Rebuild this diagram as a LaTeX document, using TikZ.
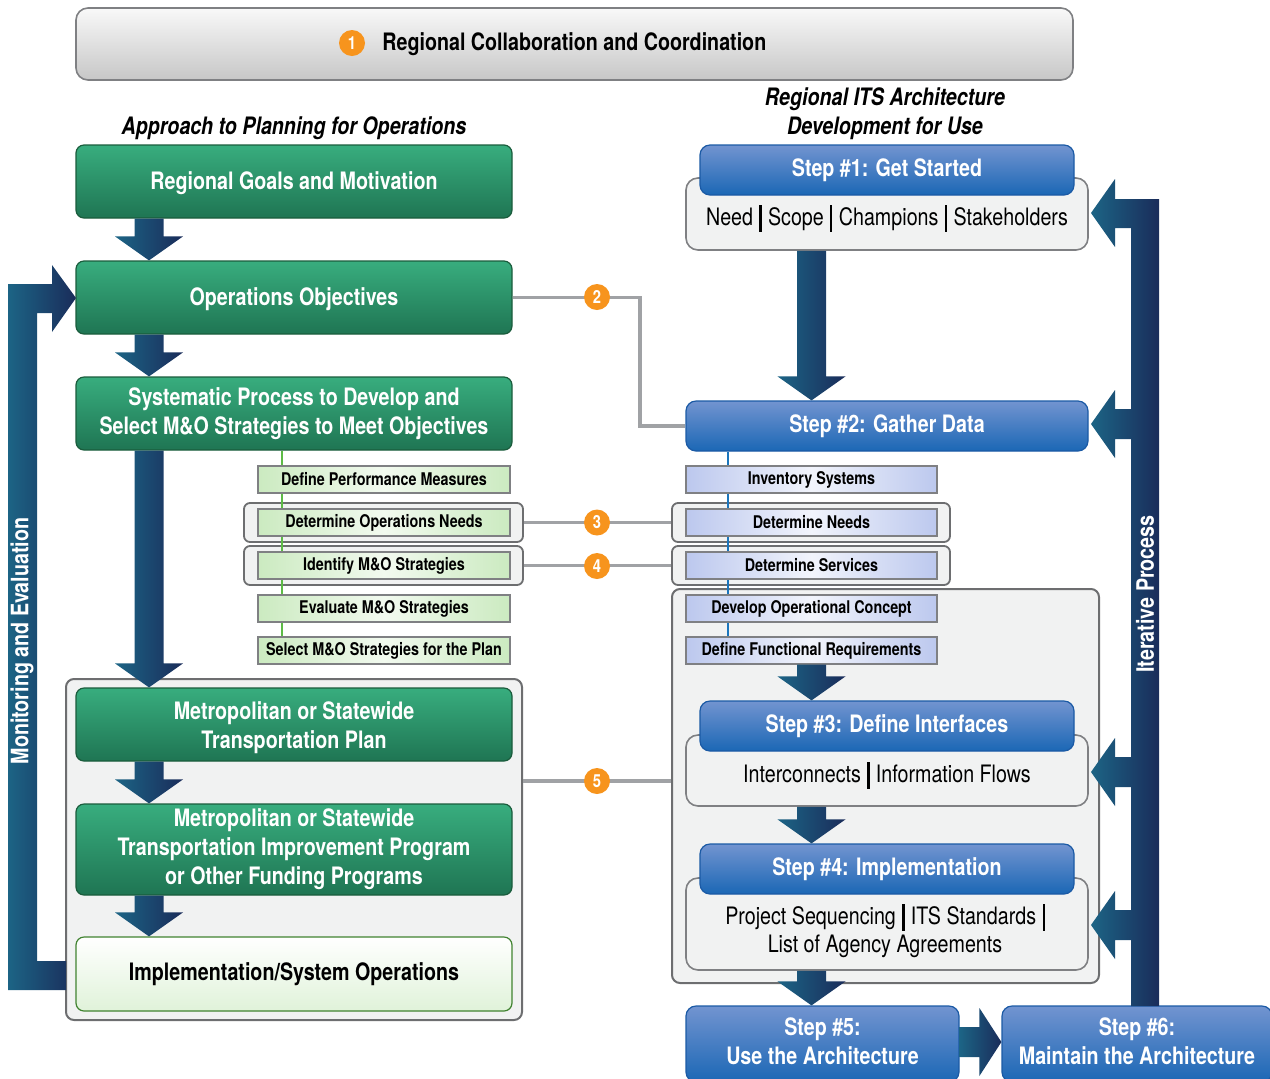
\documentclass[tikz,border=0pt]{standalone}
\usepackage{fontspec}
\setmainfont{TeX Gyre Heros}[FakeStretch=0.82]
\usetikzlibrary{calc}

\definecolor{orng}{HTML}{F7941D}
\definecolor{grtop}{HTML}{38AD7E}
\definecolor{grbot}{HTML}{1F7553}
\definecolor{grline}{HTML}{1A5C3C}
\definecolor{bltop}{HTML}{7294D0}
\definecolor{blbot}{HTML}{1B67B5}
\definecolor{blline}{HTML}{1B5AA5}
\definecolor{arrl}{HTML}{1C6485}
\definecolor{arrr}{HTML}{1A2C5A}
\definecolor{conn}{HTML}{A0A2A5}
\definecolor{frfill}{HTML}{F1F2F2}
\definecolor{frline}{HTML}{6D6E70}
\definecolor{lgreen}{HTML}{CBEAC0}
\definecolor{lblue}{HTML}{BCC8EE}
\definecolor{subline}{HTML}{7F8083}
\definecolor{gline}{HTML}{5DBB46}
\definecolor{bline}{HTML}{1B75BC}

\tikzset{
  bigtxt/.style={font=\fontsize{12}{14.5}\selectfont\bfseries},
  greenbox/.style={rectangle, rounded corners=4pt, draw=grline, line width=0.6pt,
    top color=grtop, bottom color=grbot, text=white, bigtxt, align=center,
    minimum width=218pt, inner sep=0pt},
  lightbox/.style={rectangle, rounded corners=4pt, draw=gline!70!black, line width=0.6pt,
    top color=white, bottom color=lgreen!60, text=black, bigtxt, align=center,
    minimum width=218pt, inner sep=0pt},
  stephead/.style={rectangle, rounded corners=5pt, draw=blline, line width=0.6pt,
    top color=bltop, bottom color=blbot, text=white, bigtxt, align=center, inner sep=0pt},
  stepbody/.style={rectangle, rounded corners=6pt, draw=subline, line width=0.8pt,
    fill=frfill, minimum width=201pt, inner sep=0pt},
  bodytxt/.style={font=\fontsize{12}{14}\selectfont, align=center, inner sep=0pt},
  subgreen/.style={rectangle, draw=subline, line width=0.7pt, left color=lgreen,
    right color=lgreen, middle color=lgreen!25, minimum width=126pt, minimum height=13.5pt,
    inner sep=0pt, font=\fontsize{8.75}{10}\selectfont\bfseries},
  subblue/.style={subgreen, left color=lblue, right color=lblue, middle color=lblue!20,
    minimum width=125.5pt},
  pairframe/.style={rectangle, rounded corners=3pt, draw=frline, line width=0.9pt,
    fill=frfill, minimum height=19.5pt, inner sep=0pt},
  bigframe/.style={rectangle, rounded corners=4pt, draw=frline, line width=1pt,
    fill=frfill, inner sep=0pt},
  num/.style={circle, fill=orng, text=white, font=\fontsize{9}{9}\selectfont\bfseries,
    minimum size=13pt, inner sep=0pt},
  connline/.style={draw=conn, line width=1.6pt},
  arrowfill/.style={left color=arrl, right color=arrr},
  headtxt/.style={font=\fontsize{12}{14.5}\selectfont\bfseries\itshape, align=center},
}

\newcommand{\vbar}{\hspace{3.2pt}\rule[-3pt]{1.1pt}{13.5pt}\hspace{3.2pt}}
\newcommand{\lowfix}{\rule[-3pt]{0pt}{3pt}}
\newcommand{\hifix}[1]{\rule{0pt}{#1}}

% block arrow pointing down, from #1 to #2
\newcommand{\blkdown}[2]{%
  \shade[arrowfill] let \p1=(#1), \p2=(#2) in
    (\x1-7.25pt,\y1) -- (\x1+7.25pt,\y1) -- (\x1+7.25pt,\y2+12pt) -- (\x1+17pt,\y2+12pt)
    -- (\x2,\y2) -- (\x1-17pt,\y2+12pt) -- (\x1-7.25pt,\y2+12pt) -- cycle;}
% block arrow pointing right
\newcommand{\blkright}[2]{%
  \shade[arrowfill] let \p1=(#1), \p2=(#2) in
    (\x1,\y1+7.5pt) -- (\x2-11pt,\y1+7.5pt) -- (\x2-11pt,\y1+17pt) -- (\x2,\y1)
    -- (\x2-11pt,\y1-17pt) -- (\x2-11pt,\y1-7.5pt) -- (\x1,\y1-7.5pt) -- cycle;}

\begin{document}
\begin{tikzpicture}[x=0.5pt,y=-0.5pt]
\useasboundingbox (0,0) rectangle (1270,1078);

%top banner
\node[rectangle, rounded corners=6pt, draw=subline, line width=0.8pt, top color=white!95!gray,
  bottom color=black!22, minimum width=498.5pt, minimum height=36pt] (banner) at (574.5,44) {};
\node[num] (n1) at (352,43) {1};
\node[bigtxt, anchor=west, inner sep=0pt] (bantxt) at (382,44) {Regional Collaboration and Coordination};

%headings
\node[headtxt] (hleft) at (294,128) {Approach to Planning for Operations};
\node[headtxt] (hright) at (885,114) {Regional ITS Architecture\\Development for Use};

%frames
\node[bigframe, minimum width=228pt, minimum height=170.5pt] (fl) at (294,849.5) {};
\node[bigframe, minimum width=213.5pt, minimum height=197pt] (fr) at (885.5,786) {};
\node[pairframe, minimum width=139.5pt] (fl3) at (383.5,522.5) {};
\node[pairframe, minimum width=139.5pt] (fl4) at (383.5,565.5) {};
\node[pairframe, minimum width=139pt] (fr3) at (811,522.5) {};
\node[pairframe, minimum width=139pt] (fr4) at (811,565.5) {};

%left column
\node[greenbox, minimum height=36.5pt] (g1) at (294,181.5) {\hifix{11pt}Regional Goals and Motivation};
\node[greenbox, minimum height=36.5pt] (g2) at (294,297.5) {\hifix{11pt}Operations Objectives};
\node[greenbox, minimum height=36.5pt] (g3) at (294,413.5) {Systematic Process to Develop and\\Select M\&O Strategies to Meet Objectives};
\node[greenbox, minimum height=36.5pt] (g4) at (294,724.5) {\hifix{12pt}Metropolitan or Statewide\\Transportation Plan};
\node[greenbox, minimum height=45.5pt] (g5) at (294,849.5) {Metropolitan or Statewide\\Transportation Improvement Program\\or Other Funding Programs};
\node[lightbox, minimum height=37pt] (g6) at (294,974) {Implementation/System Operations};

\coordinate (gx) at (282,0);
\draw[gline, line width=1.1pt] (g3.south -| gx) -- (gx |- 0,637);
\node[subgreen] (a1) at (384,479.5) {Define Performance Measures};
\node[subgreen] (a2) at (384,522.5) {Determine Operations Needs};
\node[subgreen] (a3) at (384,565.5) {Identify M\&O Strategies};
\node[subgreen] (a4) at (384,608.5) {Evaluate M\&O Strategies};
\node[subgreen] (a5) at (384,650.5) {Select M\&O Strategies for the Plan};

%right column
\node[stepbody, minimum height=36pt] (s1b) at (887,214) {};
\node[stephead, minimum width=187pt, minimum height=25pt] (s1) at (887,170) {Step \#1: Get Started};
\node[bodytxt] (s1t) at (887,218) {Need\vbar Scope\vbar Champions\vbar Stakeholders};
\node[stephead, minimum width=201pt, minimum height=25pt] (s2) at (887,426) {Step \#2: Gather Data};

\coordinate (bx) at (728,0);
\draw[bline, line width=0.8pt] (s2.south -| bx) -- (bx |- 0,637);
\node[subblue] (b1) at (811.5,479.5) {Inventory Systems};
\node[subblue] (b2) at (811.5,522.5) {Determine Needs};
\node[subblue] (b3) at (811.5,565.5) {Determine Services};
\node[subblue] (b4) at (811.5,608.5) {Develop Operational Concept};
\node[subblue] (b5) at (811.5,650.5) {Define Functional Requirements};

\node[stepbody, minimum height=35.5pt] (s3b) at (887,770.5) {};
\node[stephead, minimum width=187pt, minimum height=25pt] (s3) at (887,726) {Step \#3: Define Interfaces};
\node[bodytxt] (s3t) at (887,775) {Interconnects\vbar Information Flows};
\node[stepbody, minimum height=46pt] (s4b) at (887,924) {};
\node[stephead, minimum width=187pt, minimum height=25pt] (s4) at (887,869) {Step \#4: Implementation};
\node[bodytxt] (s4t) at (885,931) {Project Sequencing\vbar ITS Standards\vbar\\List of Agency Agreements};
\node[stephead, minimum width=136.5pt, minimum height=38pt] (s5) at (822.5,1044) {Step \#5:\\Use the Architecture\lowfix};
\node[stephead, minimum width=135pt, minimum height=38pt] (s6) at (1137,1044) {Step \#6:\\Maintain the Architecture\lowfix};

%block arrows
\coordinate (ax) at (149,0);
\coordinate (bx2) at (811.5,0);
\coordinate (ay) at (0,1042);
\blkdown{g1.south -| ax}{g2.north -| ax}
\blkdown{g2.south -| ax}{g3.north -| ax}
\blkdown{g3.south -| ax}{g4.north -| ax}
\blkdown{g4.south -| ax}{g5.north -| ax}
\blkdown{g5.south -| ax}{g6.north -| ax}
\blkdown{s1b.south -| bx2}{s2.north -| bx2}
\blkdown{b5.south -| bx2}{s3.north -| bx2}
\blkdown{s3b.south -| bx2}{s4.north -| bx2}
\blkdown{s4b.south -| bx2}{s5.north -| bx2}
\blkright{s5.east |- ay}{s6.west |- ay}

%monitoring and evaluation
\shade[arrowfill] (8,990) -- (8,284) -- (52,284) -- (52,265) -- (76,298) -- (52,332)
  -- (52,313) -- (37,313) -- (37,961) -- (66,961) -- (66,990) -- cycle;
\node[bigtxt, text=white, rotate=90] (mon) at (22,641) {Monitoring and Evaluation};

%iterative process
\shade[arrowfill] (1159,1006) -- (1159,199) -- (1115,199) -- (1115,179) -- (1091,213)
  -- (1115,247) -- (1115,228) -- (1131,228) -- (1131,409) -- (1115,409) -- (1115,390)
  -- (1091,424) -- (1115,458) -- (1115,439) -- (1131,439) -- (1131,757) -- (1115,757)
  -- (1115,738) -- (1091,772) -- (1115,806) -- (1115,787) -- (1131,787) -- (1131,910)
  -- (1115,910) -- (1115,891) -- (1091,925) -- (1115,959) -- (1115,940) -- (1131,940)
  -- (1131,1006) -- cycle;
\node[bigtxt, text=white, rotate=90] (itr) at (1145,594) {Iterative Process};

%connectors
\coordinate (kx) at (640,0);
\coordinate (c5) at (0,781);
\draw[connline] (g2.east) -- (g2.east -| kx) |- (s2.west);
\draw[connline] (fl3.east) -- (fr3.west);
\draw[connline] (fl4.east) -- (fr4.west);
\draw[connline] (fl.east |- c5) -- (fr.west |- c5);
\node[num] (n2) at (597,297) {2};
\node[num] (n3) at (597,522.5) {3};
\node[num] (n4) at (597,566) {4};
\node[num] (n5) at (597,781) {5};
\end{tikzpicture}
\end{document}
